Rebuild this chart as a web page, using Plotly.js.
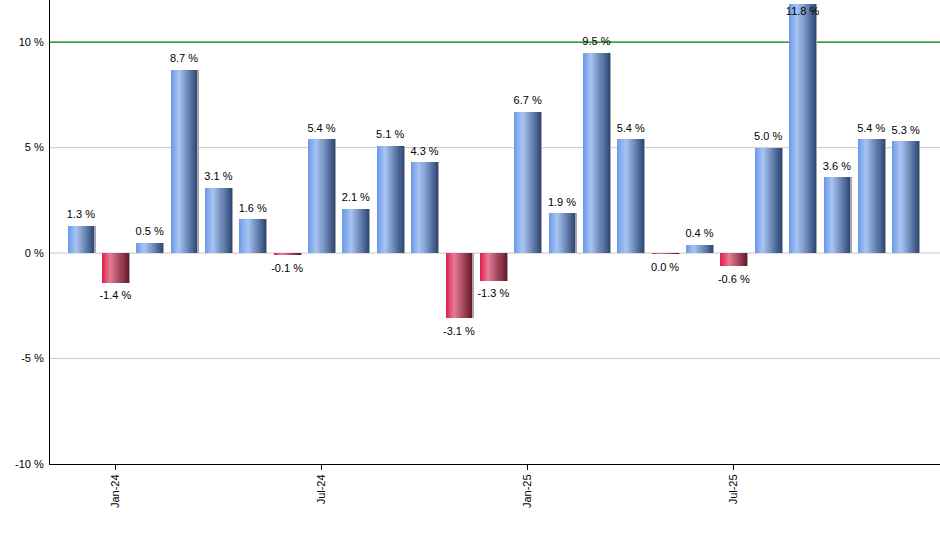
<!DOCTYPE html>
<html>
<head>
<meta charset="utf-8">
<script src="https://cdn.plot.ly/plotly-3.0.1.min.js"></script>
<style>html,body{margin:0;padding:0;background:#fff;}#chart{width:940px;height:550px;}</style>
</head>
<body>
<div id="chart"></div>
<script>
var months = ['Dec-23','Jan-24','Feb-24','Mar-24','Apr-24','May-24','Jun-24','Jul-24','Aug-24','Sep-24','Oct-24','Nov-24','Dec-24',
              'Jan-25','Feb-25','Mar-25','Apr-25','May-25','Jun-25','Jul-25','Aug-25','Sep-25','Oct-25','Nov-25','Dec-25'];
var returns = [1.3, -1.4, 0.5, 8.7, 3.1, 1.6, -0.1, 5.4, 2.1, 5.1, 4.3, -3.1, -1.3,
               6.7, 1.9, 9.5, 5.4, -0.04, 0.4, -0.6, 5.0, 11.8, 3.6, 5.4, 5.3];
var tickMonths = ['Jan-24','Jul-24','Jan-25','Jul-25'];
var yTickVals = [-10, -5, 0, 5, 10];
var yTickText = ['-10 %', '-5 %', '0 %', '5 %', '10 %'];
var gridVals = [-5, 0, 5];
var targetLine = 10;

function hex(c){return [parseInt(c.substr(1,2),16),parseInt(c.substr(3,2),16),parseInt(c.substr(5,2),16)];}
function grad(stops, t){
  for (var i=0;i<stops.length-1;i++){
    var a=stops[i], b=stops[i+1];
    if (t<=b[0]){
      var f=(t-a[0])/(b[0]-a[0]); var ca=hex(a[1]), cb=hex(b[1]);
      return 'rgb('+Math.round(ca[0]+(cb[0]-ca[0])*f)+','+Math.round(ca[1]+(cb[1]-ca[1])*f)+','+Math.round(ca[2]+(cb[2]-ca[2])*f)+')';
    }
  }
  return stops[stops.length-1][1];
}
var blueStops = [[0,'#6e9be8'],[0.3,'#a8c5f4'],[1,'#2f4a78']];
var redStops  = [[0,'#e0234f'],[0.3,'#e47d96'],[1,'#6a1a2e']];

var BW = 0.78, N = 26, sw = BW/N;
var traces = [];
// shadow
traces.push({type:'bar', x:months, y:returns, width:BW, offset:-BW/2+0.035,
  marker:{color:'#a8a8a8', line:{width:0}}, hoverinfo:'skip', showlegend:false});
for (var i=0;i<N;i++){
  var t = i/(N-1);
  var cols = returns.map(function(v){ return v>0 ? grad(blueStops,t) : grad(redStops,t); });
  traces.push({type:'bar', x:months, y:returns, width: BW - i*sw, offset:-BW/2+i*sw,
    marker:{color:cols, line:{width:0}}, hoverinfo:'skip', showlegend:false});
}
// labels
var ymax = 12;
function above(v){ return v>0 && v<ymax-0.8; }
function clipped(v){ return v>=ymax-0.8; }
function fmt(v){ var r = Math.round(v*10)/10; if (r === 0) r = 0; return Math.abs(r).toFixed(1) === '0.0' ? '0.0 %' : r.toFixed(1)+' %'; }
traces.push({type:'scatter', mode:'markers+text', x:months, y:returns,
  text: returns.map(fmt),
  textposition: returns.map(function(v){ return above(v) ? 'top center' : 'bottom center'; }),
  marker:{size: returns.map(function(v){ return above(v) ? 6 : (clipped(v) ? 3 : 12); }), color:'rgba(0,0,0,0)', line:{width:0}},
  textfont:{family:'Liberation Sans, Arial, sans-serif', size:11, color:'#000'},
  cliponaxis:false, hoverinfo:'skip', showlegend:false});

var shapes = gridVals.map(function(g){
  return {type:'line', xref:'paper', x0:0, x1:1, yref:'y', y0:g, y1:g, line:{color:'#c8c8c8', width:1}, layer:'below'};
});
shapes.push({type:'line', xref:'paper', x0:0, x1:1, yref:'y', y0:targetLine, y1:targetLine, line:{color:'#007800', width:1.3}, layer:'below'});

var layout = {
  width:940, height:550,
  margin:{l:50, r:0, t:0, b:86},
  paper_bgcolor:'#fff', plot_bgcolor:'#fff',
  barmode:'overlay', bargap:0,
  font:{family:'Liberation Sans, Arial, sans-serif', size:11, color:'#000'},
  xaxis:{type:'category', range:[-0.9, 25], tickmode:'array', tickvals:tickMonths, ticktext:tickMonths,
    tickangle:-90, ticks:'outside', ticklen:5, tickcolor:'#000', showgrid:false, zeroline:false,
    showline:true, linecolor:'#000', linewidth:1, fixedrange:true},
  yaxis:{range:[-10, ymax], tickmode:'array', tickvals:yTickVals, ticktext:yTickText, ticks:'',
    showgrid:false, zeroline:false,
    showline:true, linecolor:'#000', linewidth:1, ticklabelstandoff:3},
  shapes: shapes
};
Plotly.newPlot('chart', traces, layout, {staticPlot:true});
</script>
</body>
</html>
